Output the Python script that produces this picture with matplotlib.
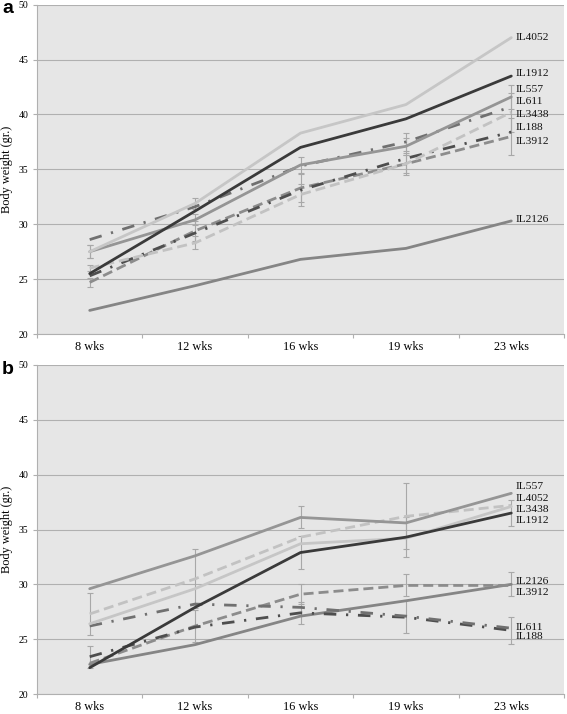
import matplotlib
matplotlib.use("Agg")
import matplotlib.pyplot as plt
import numpy as np

weeks = ["8 wks", "12 wks", "16 wks", "19 wks", "23 wks"]
lines_order = ["IL4052", "IL1912", "IL557", "IL611", "IL3438", "IL188", "IL3912", "IL2126"]

# Panel a values
a_IL4052 = [27.5, 31.9, 38.3, 40.9, 47.0]
a_IL1912 = [25.5, 31.2, 37.0, 39.6, 43.5]
a_IL557 = [27.5, 30.4, 35.4, 37.1, 41.6]
a_IL611 = [28.6, 31.6, 35.3, 37.5, 40.7]
a_IL3438 = [26.0, 28.3, 32.7, 35.5, 40.2]
a_IL188 = [25.3, 29.2, 33.1, 36.0, 38.4]
a_IL3912 = [24.7, 29.4, 33.3, 35.5, 38.0]
a_IL2126 = [22.15, 24.4, 26.8, 27.8, 30.3]

# Panel a error bars
a_err_IL4052 = [0.6, 0.5, 0, 0, 0]
a_err_IL557 = [0.6, 0.5, 0.7, 0.8, 1.1]
a_err_IL611 = [0, 0, 0, 0.8, 0]
a_err_IL3438 = [0.3, 0.6, 1.0, 0.8, 1.8]
a_err_IL3912 = [0.4, 0.9, 1.3, 1.0, 1.7]

# Panel b values
b_IL557 = [29.6, 32.6, 36.1, 35.6, 38.3]
b_IL4052 = [26.4, 29.6, 33.7, 34.2, 37.1]
b_IL3438 = [27.3, 30.5, 34.3, 36.2, 37.2]
b_IL1912 = [22.4, 27.9, 32.9, 34.3, 36.5]
b_IL2126 = [22.7, 24.5, 27.1, 28.5, 30.0]
b_IL3912 = [22.8, 26.2, 29.1, 29.9, 29.9]
b_IL611 = [26.2, 28.2, 27.9, 27.1, 26.0]
b_IL188 = [23.4, 26.1, 27.4, 27.0, 25.8]

# Panel b error bars
b_err_IL557 = [0, 0, 1.0, 0, 0]
b_err_IL3438 = [1.9, 2.7, 0, 3.0, 0]
b_err_IL1912 = [0, 0, 1.5, 1.8, 1.2]
b_err_IL188 = [1.0, 0, 1.0, 0, 1.2]
b_err_IL3912 = [0, 1.5, 0.9, 1.0, 0]
b_err_IL611 = [0, 0, 0, 1.5, 0]
b_err_IL2126 = [0, 0, 0, 0, 1.1]

# end-label positions
a_label_y = {"IL4052": 47.0, "IL1912": 43.7, "IL557": 42.3, "IL611": 41.2,
             "IL3438": 40.0, "IL188": 38.8, "IL3912": 37.5, "IL2126": 30.4}
b_label_y = {"IL557": 38.9, "IL4052": 37.8, "IL3438": 36.85, "IL1912": 35.8,
             "IL2126": 30.3, "IL3912": 29.3, "IL611": 26.1, "IL188": 25.2}

dash = (0, (3.6, 1.8))
dashdot = (0, (4.5, 3.5, 0.8, 3.5))
styles = {
    "IL4052": ("#c6c6c6", "-"),
    "IL1912": ("#3a3a3a", "-"),
    "IL557": ("#959595", "-"),
    "IL611": ("#707070", dashdot),
    "IL3438": ("#c2c2c2", dash),
    "IL188": ("#4e4e4e", dashdot),
    "IL3912": ("#8c8c8c", dash),
    "IL2126": ("#858585", "-"),
}

panel_a = {"IL4052": a_IL4052, "IL1912": a_IL1912, "IL557": a_IL557, "IL611": a_IL611,
           "IL3438": a_IL3438, "IL188": a_IL188, "IL3912": a_IL3912, "IL2126": a_IL2126}
panel_a_err = {"IL4052": a_err_IL4052, "IL557": a_err_IL557, "IL611": a_err_IL611,
               "IL3438": a_err_IL3438, "IL3912": a_err_IL3912}
panel_b = {"IL557": b_IL557, "IL4052": b_IL4052, "IL3438": b_IL3438, "IL1912": b_IL1912,
           "IL2126": b_IL2126, "IL3912": b_IL3912, "IL611": b_IL611, "IL188": b_IL188}
panel_b_err = {"IL557": b_err_IL557, "IL3438": b_err_IL3438, "IL1912": b_err_IL1912,
               "IL188": b_err_IL188, "IL3912": b_err_IL3912, "IL611": b_err_IL611,
               "IL2126": b_err_IL2126}

serif = "Liberation Serif"
W, H = 567, 714
fig = plt.figure(figsize=(W / 100, H / 100), dpi=100)
fig.patch.set_facecolor("white")

def make_panel(top_px, bottom_px, data, errs, label_y, letter):
    left_px, right_px = 37, 564
    ax = fig.add_axes([left_px / W, 1 - bottom_px / H, (right_px - left_px) / W,
                       (bottom_px - top_px) / H])
    ax.set_facecolor("#e6e6e6")
    x = np.arange(len(weeks))
    draw_order = ["IL2126", "IL3912", "IL188", "IL3438", "IL611", "IL557", "IL4052", "IL1912"]
    for name in draw_order:
        vals = data[name]
        col, ls = styles[name]
        ax.plot(x, vals, color=col, linestyle=ls, linewidth=2.0, zorder=3,
                solid_capstyle="round", dash_capstyle="butt")
    for name, e in errs.items():
        vals = np.array(data[name])
        e = np.array(e, dtype=float)
        m = e > 0
        ax.errorbar(x[m], vals[m], yerr=e[m], fmt="none", ecolor="#a8a8a8",
                    elinewidth=0.8, capsize=2, capthick=0.8, zorder=2)
    for name, ly in label_y.items():
        ax.annotate(name, xy=(4, ly), xytext=(3, 0), textcoords="offset points",
                    va="center", ha="left", fontsize=8.2, family=serif, color="#111111",
                    annotation_clip=False, zorder=5)
    ax.set_xlim(-0.5, 4.5)
    ax.set_ylim(20, 50)
    ax.set_yticks([20, 25, 30, 35, 40, 45, 50])
    ax.set_xticks(x)
    ax.set_xticklabels(weeks, family=serif, fontsize=8.8)
    ax.set_xticks(np.arange(-0.5, 5.0, 1.0), minor=True)
    ax.tick_params(axis="x", which="major", length=0, pad=5)
    ax.tick_params(axis="x", which="minor", length=3, color="#b0b0b0", width=0.8)
    ax.tick_params(axis="y", length=3, color="#b0b0b0", width=0.8, pad=3, labelsize=7)
    for t in ax.get_yticklabels():
        t.set_family(serif)
    ax.grid(axis="y", color="#b0b0b0", linewidth=0.8, zorder=1)
    ax.set_axisbelow(True)
    for s in ["top", "right"]:
        ax.spines[s].set_visible(False)
    for s in ["left", "bottom"]:
        ax.spines[s].set_color("#b0b0b0")
        ax.spines[s].set_linewidth(0.8)
    ax.set_ylabel("Body weight (gr.)", family=serif, fontsize=8.8, labelpad=4)
    fig.text(2 / W, 1 - (top_px + 4) / H, letter, fontsize=14, fontweight="bold",
             family="Liberation Sans", va="center", ha="left")
    return ax

make_panel(4.7, 334, panel_a, panel_a_err, a_label_y, "a")
make_panel(365, 694, panel_b, panel_b_err, b_label_y, "b")

fig.savefig("out.png", dpi=100)
